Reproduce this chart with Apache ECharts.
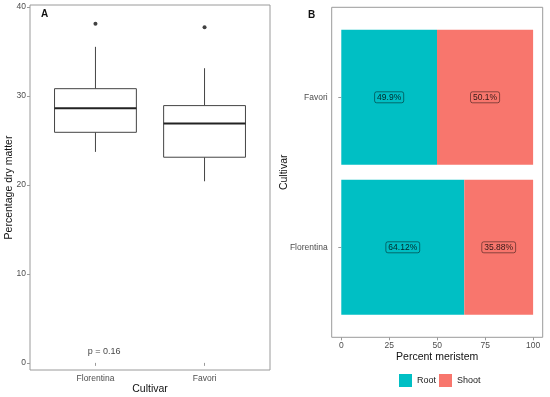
<!DOCTYPE html>
<html>
<head>
<meta charset="utf-8">
<script src="https://cdn.jsdelivr.net/npm/echarts@6/dist/echarts.min.js"></script>
<style>
html,body{margin:0;padding:0;background:#fff;}
#chart{width:550px;height:397px;}
</style>
</head>
<body>
<div id="chart"></div>
<script>
// ---- Panel A data (boxplot of percentage dry matter) ----
const cultivarsA = ['Florentina', 'Favori'];
const boxMin = [23.7, 20.4];
const boxQ1 = [25.9, 23.1];
const boxMedian = [28.6, 26.9];
const boxQ3 = [30.8, 28.9];
const boxMax = [35.5, 33.1];
const outlierValues = [38.1, 37.7];
const yTicksA = [0, 10, 20, 30, 40];
const pValueText = 'p = 0.16';

// ---- Panel B data (percent meristem) ----
const cultivarsB = ['Florentina', 'Favori'];
const rootPct = [64.12, 49.9];
const shootPct = [35.88, 50.1];
const xTicksB = [0, 25, 50, 75, 100];

const FONT = 'Liberation Sans, Arial, sans-serif';
const GRAY = '#9a9a9a';
const TICKTXT = '#4d4d4d';

const chart = echarts.init(document.getElementById('chart'), null, {renderer: 'canvas'});

const boxData = cultivarsA.map((c, i) => [i + 1, boxMin[i], boxQ1[i], boxMedian[i], boxQ3[i], boxMax[i]]);
const outlierData = outlierValues.map((v, i) => [i + 1, v]);

function rootData() { return cultivarsB.map((c, i) => [0, rootPct[i], i + 1, rootPct[i]]); }
function shootData() { return cultivarsB.map((c, i) => [rootPct[i], rootPct[i] + shootPct[i], i + 1, shootPct[i]]); }

function renderBox(params, api) {
  const x = api.value(0);
  const lo = api.coord([x, api.value(1)]);
  const q1 = api.coord([x, api.value(2)]);
  const md = api.coord([x, api.value(3)]);
  const q3 = api.coord([x, api.value(4)]);
  const hi = api.coord([x, api.value(5)]);
  const half = api.size([0.75, 0])[0] / 2;
  const stroke = '#444';
  return {
    type: 'group',
    children: [
      {type: 'line', shape: {x1: hi[0], y1: hi[1], x2: q3[0], y2: q3[1]}, style: {stroke: stroke, lineWidth: 1}},
      {type: 'line', shape: {x1: q1[0], y1: q1[1], x2: lo[0], y2: lo[1]}, style: {stroke: stroke, lineWidth: 1}},
      {type: 'rect', shape: {x: q3[0] - half, y: q3[1], width: half * 2, height: q1[1] - q3[1]}, style: {fill: '#fff', stroke: stroke, lineWidth: 1}},
      {type: 'line', shape: {x1: md[0] - half, y1: md[1], x2: md[0] + half, y2: md[1]}, style: {stroke: '#222', lineWidth: 2}}
    ]
  };
}

function renderStack(params, api) {
  const s = api.value(0), e = api.value(1), c = api.value(2), pct = api.value(3);
  const p0 = api.coord([s, c]);
  const p1 = api.coord([e, c]);
  const h = api.size([0, 0.9])[1];
  return {
    type: 'group',
    children: [
      {type: 'rect', shape: {x: p0[0], y: p0[1] - h / 2, width: p1[0] - p0[0], height: h}, style: {fill: api.visual('color')}},
      {type: 'text', x: (p0[0] + p1[0]) / 2, y: p0[1], style: {
        text: pct + '%', font: '8.5px ' + FONT, fill: 'rgba(0,0,0,0.8)', align: 'center', verticalAlign: 'middle',
        borderColor: 'rgba(0,0,0,0.45)', borderWidth: 1, borderRadius: 2, padding: [1.5, 2.5, 0.5, 2.5]
      }, z2: 10}
    ]
  };
}

const option = {
  animation: false,
  backgroundColor: '#fff',
  textStyle: {fontFamily: FONT},
  grid: [
    {left: 30, top: 5, width: 240, height: 365, show: true, borderColor: GRAY, borderWidth: 1, containLabel: false, outerBoundsMode: 'none'},
    {left: 331.7, top: 7.3, width: 211, height: 330, show: true, borderColor: GRAY, borderWidth: 1, containLabel: false, outerBoundsMode: 'none'}
  ],
  xAxis: [
    {
      gridIndex: 0, type: 'value', min: 0.4, max: 2.6,
      name: 'Cultivar', nameLocation: 'middle', nameGap: 14, nameMoveOverlap: false,
      nameTextStyle: {fontSize: 10.5, color: '#111', fontFamily: FONT},
      axisLine: {show: false},
      splitLine: {show: false},
      axisTick: {show: true, length: 3, lineStyle: {color: GRAY}, customValues: [1, 2]},
      axisLabel: {customValues: [1, 2], formatter: v => cultivarsA[Math.round(v) - 1], fontSize: 8.5, color: TICKTXT, margin: 4, fontFamily: FONT}
    },
    {
      gridIndex: 1, type: 'value', min: -5, max: 105,
      name: 'Percent meristem', nameLocation: 'middle', nameGap: 14, nameMoveOverlap: false,
      nameTextStyle: {fontSize: 10.5, color: '#111', fontFamily: FONT},
      axisLine: {show: false},
      splitLine: {show: false},
      axisTick: {show: true, length: 3, lineStyle: {color: GRAY}, customValues: xTicksB},
      axisLabel: {customValues: xTicksB, fontSize: 8.5, color: TICKTXT, margin: 4, fontFamily: FONT}
    }
  ],
  yAxis: [
    {
      gridIndex: 0, type: 'value', min: -0.8, max: 40.2,
      name: 'Percentage dry matter', nameLocation: 'middle', nameGap: 15, nameMoveOverlap: false,
      nameTextStyle: {fontSize: 10.5, color: '#111', fontFamily: FONT},
      axisLine: {show: false},
      splitLine: {show: false},
      axisTick: {show: true, length: 3, lineStyle: {color: GRAY}, customValues: yTicksA},
      axisLabel: {customValues: yTicksA, fontSize: 8.5, color: TICKTXT, margin: 4, fontFamily: FONT}
    },
    {
      gridIndex: 1, type: 'value', min: 0.4, max: 2.6,
      name: 'Cultivar', nameLocation: 'middle', nameGap: 42, nameMoveOverlap: false,
      nameTextStyle: {fontSize: 10.5, color: '#111', fontFamily: FONT},
      axisLine: {show: false},
      splitLine: {show: false},
      axisTick: {show: true, length: 3, lineStyle: {color: GRAY}, customValues: [1, 2]},
      axisLabel: {customValues: [1, 2], formatter: v => cultivarsB[Math.round(v) - 1], fontSize: 8.5, color: TICKTXT, margin: 4, fontFamily: FONT}
    }
  ],
  legend: {
    data: ['Root', 'Shoot'],
    left: 399, top: 374, padding: 0,
    itemWidth: 13, itemHeight: 13, itemGap: 3, icon: 'rect',
    textStyle: {fontSize: 9, color: '#222', fontFamily: FONT}
  },
  graphic: [
    {type: 'text', left: 41, top: 9, style: {text: 'A', font: 'bold 10px ' + FONT, fill: '#111'}},
    {type: 'text', left: 308, top: 10, style: {text: 'B', font: 'bold 10px ' + FONT, fill: '#111'}}
  ],
  series: [
    {
      type: 'custom', name: 'boxes', xAxisIndex: 0, yAxisIndex: 0,
      renderItem: renderBox, data: boxData,
      encode: {x: 0, y: [1, 2, 3, 4, 5]}
    },
    {
      type: 'scatter', name: 'outliers', xAxisIndex: 0, yAxisIndex: 0,
      data: outlierData, symbolSize: 4, itemStyle: {color: '#111'}
    },
    {
      type: 'scatter', name: 'pvalue', xAxisIndex: 0, yAxisIndex: 0,
      data: [[1.08, 1.3]], symbolSize: 0,
      label: {show: true, position: 'inside', formatter: pValueText, fontSize: 9, color: '#111', fontFamily: FONT}
    },
    {
      type: 'custom', name: 'Root', xAxisIndex: 1, yAxisIndex: 1,
      renderItem: renderStack, data: rootData(), itemStyle: {color: '#00BFC4'},
      encode: {x: [0, 1], y: 2}
    },
    {
      type: 'custom', name: 'Shoot', xAxisIndex: 1, yAxisIndex: 1,
      renderItem: renderStack, data: shootData(), itemStyle: {color: '#F8766D'},
      encode: {x: [0, 1], y: 2}
    }
  ]
};
chart.setOption(option);
</script>
</body>
</html>
